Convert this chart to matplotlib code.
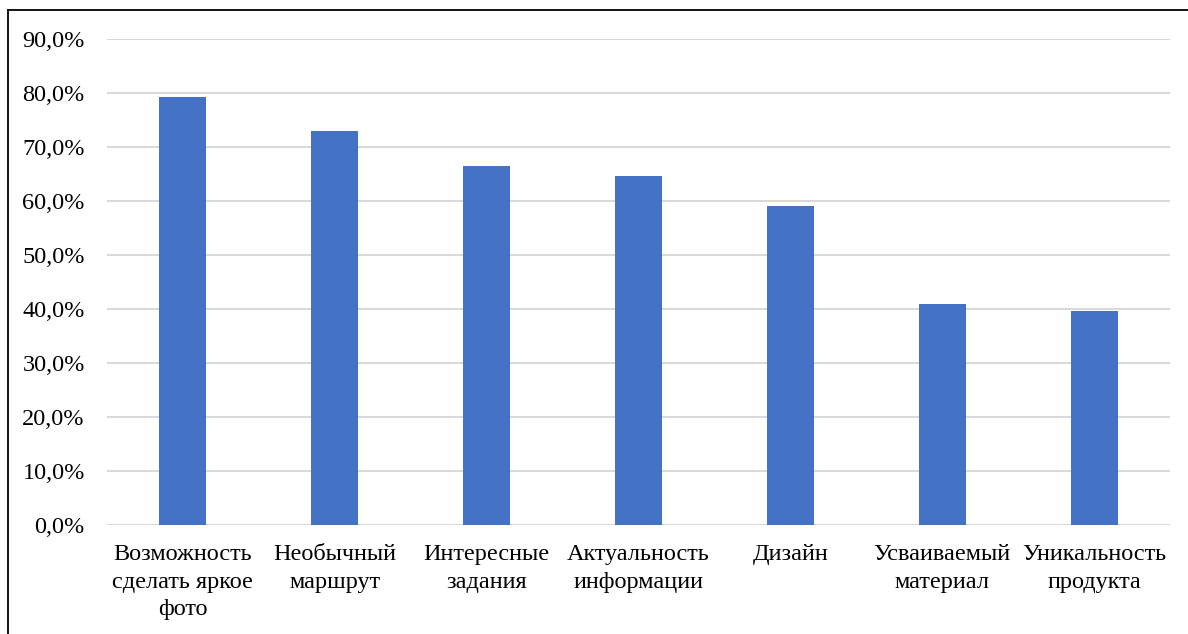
"""
    plot.py
        -- bar chart of survey answers (percent)
"""
import matplotlib.pyplot as plt
from matplotlib.lines import Line2D

categories = [
    "Возможность\nсделать яркое\nфото",
    "Необычный\nмаршрут",
    "Интересные\nзадания",
    "Актуальность\nинформации",
    "Дизайн",
    "Усваиваемый\nматериал",
    "Уникальность\nпродукта",
]
values = [79.3, 72.9, 66.4, 64.7, 59.0, 41.0, 39.6]
yticks = [0, 10, 20, 30, 40, 50, 60, 70, 80, 90]
ytick_labels = [f"{t:.1f}%".replace(".", ",") for t in yticks]


def main():
    plt.rcParams["font.family"] = ["Liberation Serif", "DejaVu Serif"]
    fig = plt.figure(figsize=(11.88, 6.34), dpi=100)
    ax = fig.add_axes([107 / 1188, 1 - 525 / 634, (1170 - 107) / 1188, (525 - 39) / 634])

    x = list(range(len(categories)))
    ax.bar(x, values, width=0.31, color="#4472C4", zorder=3)

    ax.set_xlim(-0.5, len(categories) - 0.5)
    ax.set_ylim(0, 90)
    ax.set_yticks(yticks)
    ax.set_yticklabels(ytick_labels, fontsize=17.5)
    ax.set_xticks(x)
    ax.set_xticklabels(categories, fontsize=17.5, linespacing=1.4, multialignment="center")
    ax.tick_params(axis="both", length=0)
    ax.tick_params(axis="y", pad=16)
    ax.tick_params(axis="x", pad=14)
    ax.grid(axis="y", color="#D9D9D9", linewidth=1.5, zorder=0)
    for s in ax.spines.values():
        s.set_visible(False)

    # outer frame (left and top edges visible)
    fig.add_artist(Line2D([7.5 / 1188, 7.5 / 1188], [0, 1 - 10 / 634],
                          transform=fig.transFigure, color="black", lw=1.3))
    fig.add_artist(Line2D([7.5 / 1188, 1], [1 - 10 / 634, 1 - 10 / 634],
                          transform=fig.transFigure, color="black", lw=1.3))

    fig.savefig("out.png", dpi=100)
    plt.close("all")


if __name__ == "__main__":
    main()
